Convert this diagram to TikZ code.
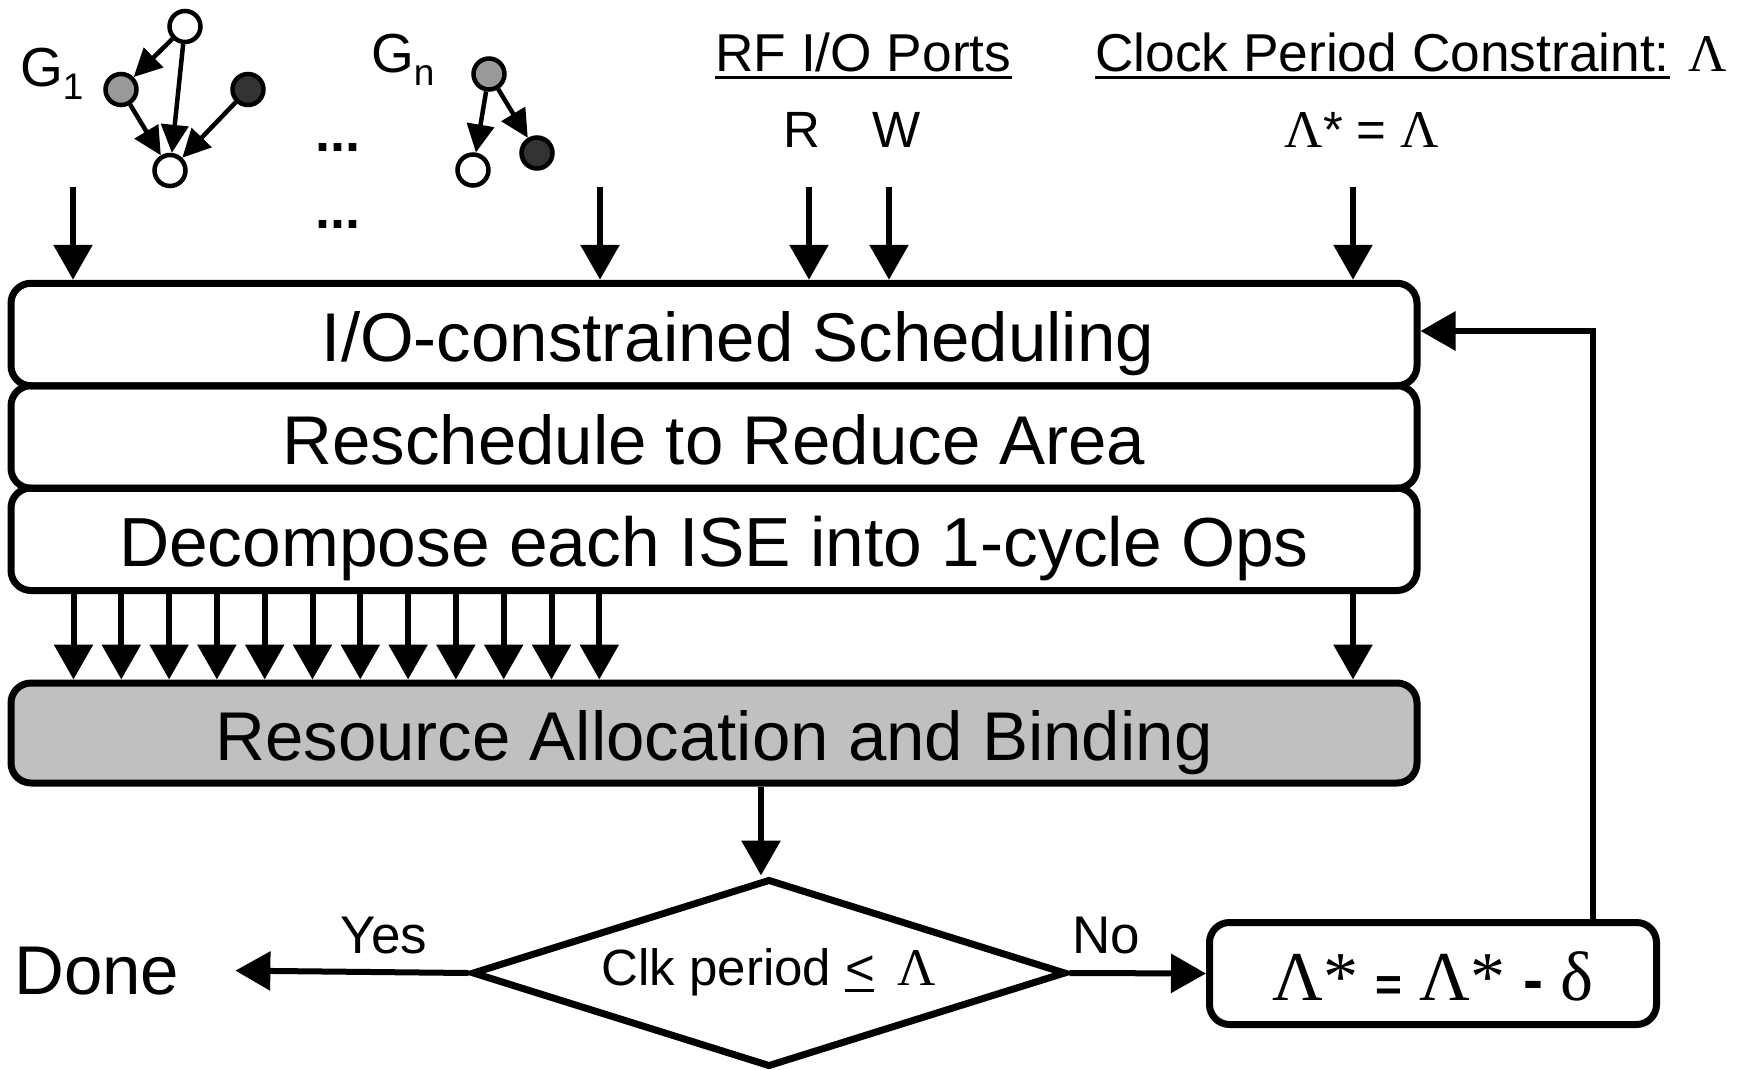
\documentclass[tikz,border=0pt]{standalone}
\usepackage{fontspec}
\setmainfont{Liberation Sans}
\newfontfamily\tms{Liberation Serif}
\usetikzlibrary{arrows.meta,shapes.geometric}
\definecolor{boxgray}{RGB}{192,192,192}
\definecolor{midgray}{RGB}{153,153,153}
\definecolor{darkgray}{RGB}{51,51,51}
\begin{document}
\begin{tikzpicture}[x=1pt,y=-1pt,
  arr/.style={line width=6pt,-{Triangle[length=35pt,width=38pt]}},
  garr/.style={line width=4.5pt,-{Triangle[length=28pt,width=27pt]}},
  procbox/.style={draw, line width=7pt, rounded corners=20pt, minimum width=1406pt,
    minimum height=102.5pt, inner sep=0pt, text height=54pt, text depth=0pt,
    font=\fontsize{69}{80}\selectfont},
  gnode/.style={circle, draw, line width=4.5pt, minimum size=31pt, inner sep=0pt},
  lbl/.style={inner sep=0pt, font=\fontsize{52}{60}\selectfont},
  uline/.style={line width=3pt}
]
\useasboundingbox (0,0) rectangle (1741,1070);

% --- process boxes ---
\node[procbox] (sched) at (714,334.5) {\hspace*{48pt}I/O-constrained Scheduling};
\node[procbox] (resched) at (714,437) {Reschedule to Reduce Area};
\node[procbox, font=\fontsize{69.5}{80}\selectfont] (decomp) at (714,539.25) {Decompose each ISE into 1-cycle Ops};
\node[procbox, fill=boxgray, minimum height=100pt] (res) at (714,733) {Resource Allocation and Binding};

% --- decision diamond ---
\node[diamond, draw, line width=7pt, minimum width=594pt, minimum height=188pt,
  aspect=3.13, inner sep=0pt, text height=24pt, text depth=0pt,
  font=\fontsize{51}{60}\selectfont] (dia) at (769,973)
  {Clk period \makebox[0pt][l]{\rule[-7pt]{29pt}{3pt}}<\, {\tms\fontsize{53}{60}\selectfont Λ}};

% --- update box ---
\node[draw, line width=7pt, rounded corners=20pt, minimum width=447pt, minimum height=102pt,
  inner sep=0pt, text height=54pt, text depth=0pt, font=\tms\fontsize{70}{80}\selectfont] (rbox) at (1433,973.5)
  {Λ* {\normalfont\bfseries\fontsize{46}{50}\selectfont =} Λ* {\normalfont\bfseries\fontsize{60}{60}\selectfont -} δ};

% --- Done ---
\node[inner sep=0pt, anchor=base west, font=\fontsize{69}{80}\selectfont] (done) at (14,994) {Done};
\node[lbl, anchor=base, font=\fontsize{53}{60}\selectfont] (yes) at (384,953) {Yes};
\node[lbl, anchor=base, font=\fontsize{53}{60}\selectfont] (no) at (1106,953) {No};

\draw[arr] (dia.west) -- ([xshift=56pt]done.east);
\draw[arr] (dia.east) -- (rbox.west);
\draw[arr] ([xshift=-8pt]res.south -| dia.north) -- ([xshift=-8pt]dia.north);

% --- feedback ---
\coordinate (fb) at (1593,331);
\draw[arr] (fb |- rbox.north) -- (fb) -- (fb -| sched.east);

% --- top inputs ---
\foreach \n/\x in {i1/73,i2/600,i3/809,i4/889,i5/1353}{
  \coordinate (\n) at (\x,187);
  \draw[arr] (\n) -- (\n |- sched.north);
}

% --- decomposed op arrows ---
\foreach \i in {0,...,11}{
  \coordinate (b\i) at ({73.5+47.8*\i},0);
  \draw[arr] (b\i |- decomp.south) -- (b\i |- res.north);
}
\coordinate (b12) at (1353,0);
\draw[arr] (b12 |- decomp.south) -- (b12 |- res.north);

% --- header labels ---
\node[lbl, anchor=base west, font=\fontsize{53.3}{60}\selectfont] (rfp) at (715,72) {RF I/O Ports};
\draw[uline] ([yshift=-6pt]rfp.base west) -- ([yshift=-6pt]rfp.base east);
\node[lbl, anchor=base west, font=\fontsize{53.3}{60}\selectfont] (cpc) at (1095,72) {Clock Period Constraint:};
\draw[uline] ([yshift=-6pt]cpc.base west) -- ([yshift=-6pt]cpc.base east);
\node[lbl, anchor=base west, font=\tms\fontsize{53}{60}\selectfont] (lam) at (1688,72) {Λ};

\node[lbl, anchor=base, font=\fontsize{51}{60}\selectfont] (rport) at (802,148) {R};
\node[lbl, anchor=base, font=\fontsize{51}{60}\selectfont] (wport) at (896.5,148) {W};
\node[lbl, anchor=base, font=\fontsize{51}{60}\selectfont] (lamstar) at (1362,148)
  {{\tms\fontsize{53}{60}\selectfont Λ}* = {\tms\fontsize{53}{60}\selectfont Λ}};

% --- graphs ---
\node[gnode, fill=white] (a1) at (185,26.5) {};
\node[gnode, fill=midgray] (a2) at (121,89.5) {};
\node[gnode, fill=darkgray] (a3) at (248,89.5) {};
\node[gnode, fill=white] (a4) at (170,170.5) {};
\draw[garr] (a1) -- (a2);
\draw[garr] (a1) -- (a4);
\draw[garr] (a2) -- (a4);
\draw[garr] (a3) -- (a4);

\node[gnode, fill=midgray] (c1) at (489,74) {};
\node[gnode, fill=white] (c2) at (473,170) {};
\node[gnode, fill=darkgray] (c3) at (537,153) {};
\draw[garr] (c1) -- (c2);
\draw[garr] (c1) -- (c3);

\node[lbl, anchor=base west, font=\fontsize{55}{60}\selectfont] (g1) at (20,87) {G\raisebox{-13pt}{\fontsize{37}{40}\selectfont 1}};
\node[lbl, anchor=base west, font=\fontsize{55}{60}\selectfont] (gn) at (371,73) {G\raisebox{-13pt}{\fontsize{37}{40}\selectfont n}};

\node[lbl, anchor=base, font=\bfseries\fontsize{54}{60}\selectfont] (dots1) at (338,152) {...};
\node[lbl, anchor=base, font=\bfseries\fontsize{54}{60}\selectfont] (dots2) at (338,228) {...};
\end{tikzpicture}
\end{document}
